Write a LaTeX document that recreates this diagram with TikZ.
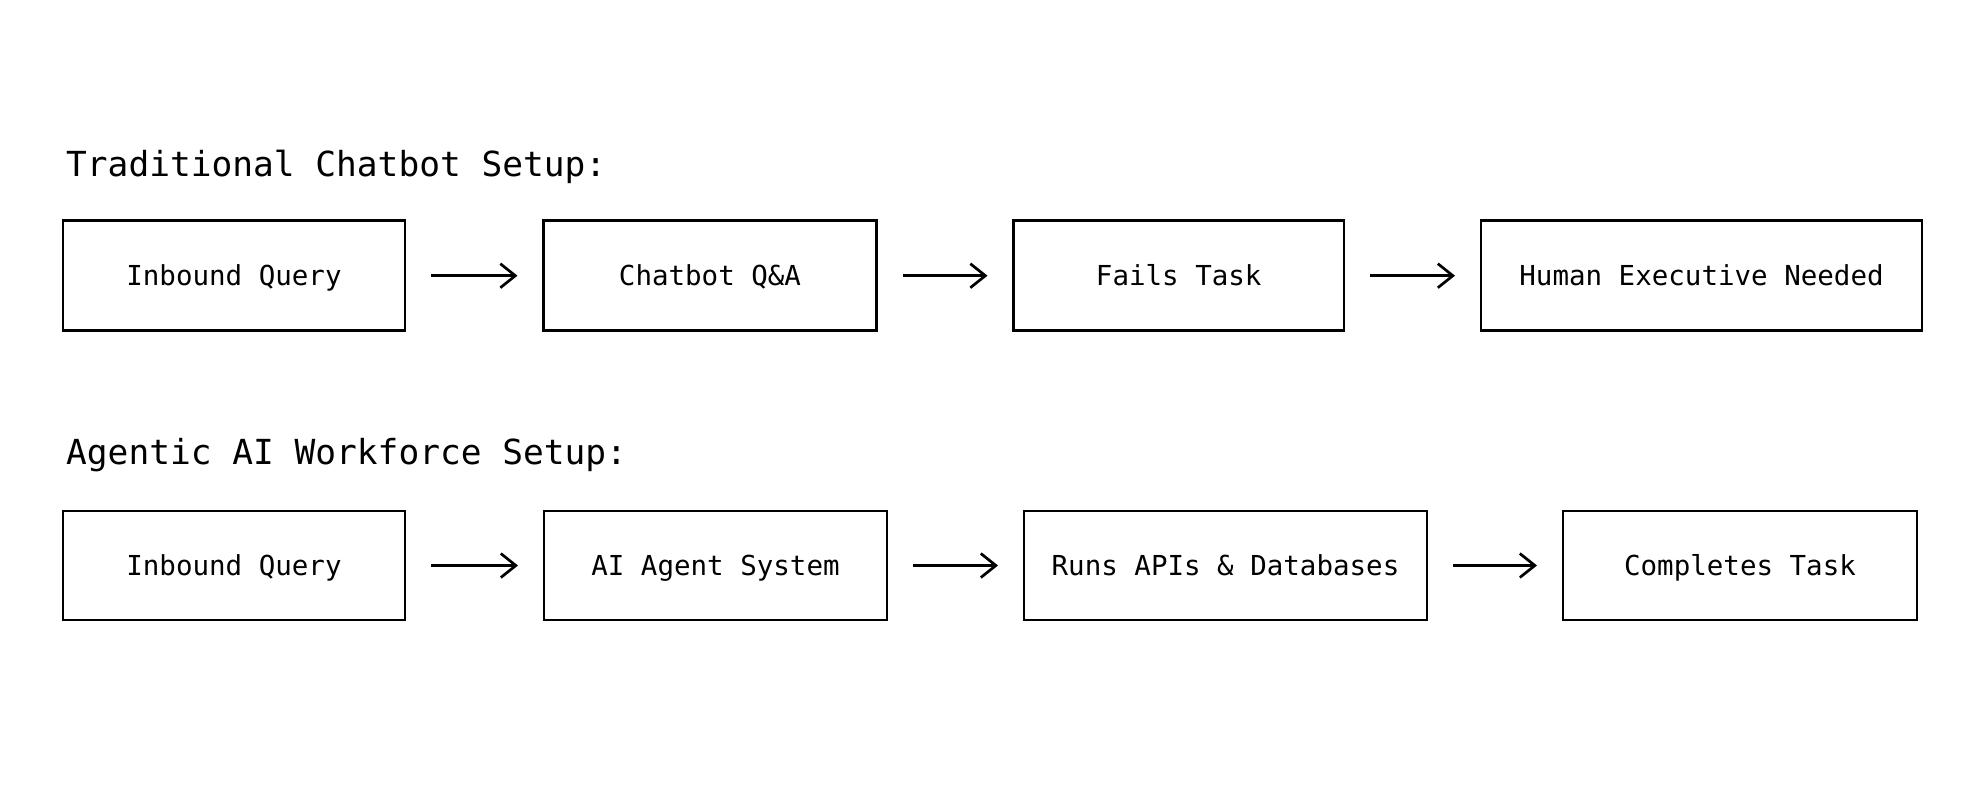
\documentclass[tikz,border=0pt]{standalone}
\usepackage{fontspec}
\setmonofont{DejaVu Sans Mono}
\usetikzlibrary{arrows.meta}
\tikzset{
  stagebox/.style={draw=black, line width=2.8pt, rectangle, inner sep=0pt, outer sep=0pt,
    text height=20pt, text depth=0pt,
    font=\ttfamily\fontsize{27.5}{33}\selectfont, text=black},
  flowarrow/.style={line width=2.7pt, -{Straight Barb[length=15pt, width=24pt, line width=2.7pt]},
    shorten <=26pt, shorten >=26pt},
  titletext/.style={anchor=base west, inner sep=0pt, font=\ttfamily\fontsize{34.5}{40}\selectfont, text=black}
}
\begin{document}
\begin{tikzpicture}[x=1pt, y=-1pt]
\fill[white] (0,0) rectangle (1983,793);
\useasboundingbox (0,0) rectangle (1983,793);

\node[titletext] (t1) at (66,176.7) {Traditional Chatbot Setup:};
\node[titletext] (t2) at (66,464.3) {Agentic AI Workforce Setup:};

% row 1
\node[stagebox, minimum width=342pt, minimum height=110pt] (a1) at (234,275.7) {Inbound Query};
\node[stagebox, minimum width=333pt, minimum height=110pt] (a2) at (710,275.7) {Chatbot Q\&A};
\node[stagebox, minimum width=330.5pt, minimum height=110pt] (a3) at (1178.75,275.7) {Fails Task};
\node[stagebox, minimum width=441pt, minimum height=110pt] (a4) at (1701.5,275.2) {Human Executive Needed};

% row 2
\node[stagebox, minimum width=342pt, minimum height=109pt] (b1) at (234,565.5) {Inbound Query};
\node[stagebox, minimum width=343pt, minimum height=109pt] (b2) at (715.5,565.5) {AI Agent System};
\node[stagebox, minimum width=403pt, minimum height=109pt] (b3) at (1225.5,565.5) {Runs APIs \& Databases};
\node[stagebox, minimum width=354pt, minimum height=109pt] (b4) at (1740,565.5) {Completes Task};

\draw[flowarrow] (a1.east) -- (a2.west);
\draw[flowarrow] (a2.east) -- (a3.west);
\draw[flowarrow] (a3.east) -- (a4.west |- a3.east);
\draw[flowarrow] (b1.east) -- (b2.west);
\draw[flowarrow] (b2.east) -- (b3.west);
\draw[flowarrow] (b3.east) -- (b4.west);
\end{tikzpicture}
\end{document}
